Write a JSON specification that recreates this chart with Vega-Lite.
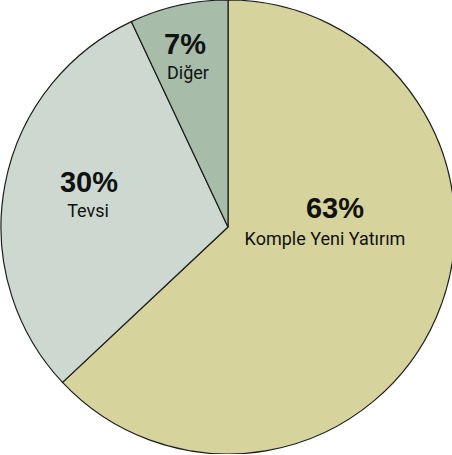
{
  "$schema": "https://vega.github.io/schema/vega-lite/v6.json",
  "autosize": "none",
  "padding": 0,
  "width": 456,
  "height": 454,
  "background": "white",
  "view": {"stroke": null},
  "data": {"values": [
    {"kategori": "Komple Yeni Yatırım", "pay": 63, "etiket": "63%", "sira": 1},
    {"kategori": "Tevsi", "pay": 30, "etiket": "30%", "sira": 2},
    {"kategori": "Diğer", "pay": 7, "etiket": "7%", "sira": 3}
  ]},
  "encoding": {
    "theta": {"field": "pay", "type": "quantitative", "stack": true},
    "order": {"field": "sira", "type": "quantitative"}
  },
  "layer": [
    {
      "mark": {"type": "arc", "stroke": "#1e1e1e", "strokeWidth": 1.2},
      "encoding": {
        "color": {
          "field": "kategori", "type": "nominal", "legend": null,
          "scale": {"domain": ["Komple Yeni Yatırım", "Tevsi", "Diğer"], "range": ["#d6d49c", "#cdd9d0", "#a8bcaa"]}
        }
      }
    },
    {
      "transform": [{"filter": "datum.sira == 1"}],
      "mark": {"type": "text", "radius": 0, "dx": 107, "dy": -9, "align": "center", "baseline": "alphabetic", "font": "Liberation Sans", "fontWeight": "bold", "fontSize": 29, "fill": "#111"},
      "encoding": {"text": {"field": "etiket"}}
    },
    {
      "transform": [{"filter": "datum.sira == 1"}],
      "mark": {"type": "text", "radius": 0, "dx": 97, "dy": 18, "align": "center", "baseline": "alphabetic", "font": "Roboto", "fontSize": 18, "fill": "#111"},
      "encoding": {"text": {"field": "kategori"}}
    },
    {
      "transform": [{"filter": "datum.sira == 2"}],
      "mark": {"type": "text", "radius": 0, "dx": -139, "dy": -35, "align": "center", "baseline": "alphabetic", "font": "Liberation Sans", "fontWeight": "bold", "fontSize": 29, "fill": "#111"},
      "encoding": {"text": {"field": "etiket"}}
    },
    {
      "transform": [{"filter": "datum.sira == 2"}],
      "mark": {"type": "text", "radius": 0, "dx": -140, "dy": -10, "align": "center", "baseline": "alphabetic", "font": "Roboto", "fontSize": 18, "fill": "#111"},
      "encoding": {"text": {"field": "kategori"}}
    },
    {
      "transform": [{"filter": "datum.sira == 3"}],
      "mark": {"type": "text", "radius": 0, "dx": -43, "dy": -173, "align": "center", "baseline": "alphabetic", "font": "Liberation Sans", "fontWeight": "bold", "fontSize": 29, "fill": "#111"},
      "encoding": {"text": {"field": "etiket"}}
    },
    {
      "transform": [{"filter": "datum.sira == 3"}],
      "mark": {"type": "text", "radius": 0, "dx": -40, "dy": -148, "align": "center", "baseline": "alphabetic", "font": "Roboto", "fontSize": 18, "fill": "#111"},
      "encoding": {"text": {"field": "kategori"}}
    }
  ]
}
